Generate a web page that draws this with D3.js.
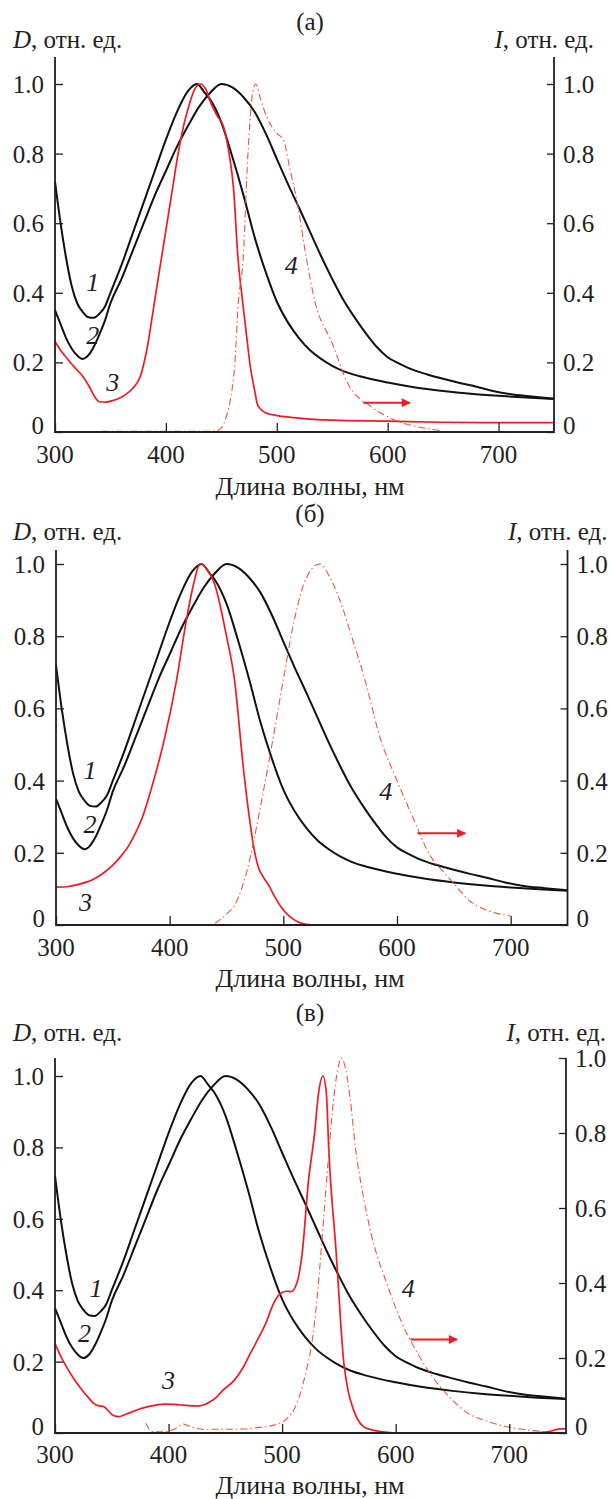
<!DOCTYPE html>
<html>
<head>
<meta charset="utf-8">
<script src="https://cdn.jsdelivr.net/npm/d3@7"></script>
<style>
  body { margin: 0; background: #fff; }
  text { font-family: "Liberation Serif", "Times New Roman", "DejaVu Serif", serif; fill: #231f20; }
</style>
</head>
<body>
<div class="chart"></div>
<script>
// tick values
var xTicks = [300, 400, 500, 600, 700];
var yTicks = [0, 0.2, 0.4, 0.6, 0.8, 1.0];
var panelNames = ["(а)", "(б)", "(в)"];

// absorption, same in all panels (nm, D)
var curve1 = [[300,0.72],[305,0.6],[310,0.5],[315,0.42],[320,0.37],[325,0.345],[330,0.33],[335,0.328],[340,0.34],
  [345,0.36],[350,0.4],[360,0.48],[370,0.57],[380,0.66],[390,0.75],[400,0.84],[410,0.92],[420,0.98],[428,1.0],
  [435,0.975],[440,0.955],[450,0.89],[460,0.79],[470,0.68],[480,0.56],[490,0.46],[500,0.375],[510,0.315],
  [520,0.27],[530,0.235],[540,0.21],[550,0.19],[560,0.175],[575,0.16],[600,0.142],[625,0.128],[650,0.118],
  [675,0.11],[700,0.104],[725,0.099],[750,0.095]];
var curve2 = [[300,0.35],[305,0.31],[310,0.27],[315,0.24],[320,0.22],[325,0.21],[330,0.22],[335,0.245],[340,0.28],
  [345,0.32],[350,0.37],[360,0.44],[370,0.52],[380,0.6],[390,0.68],[400,0.75],[410,0.82],[420,0.88],[430,0.935],
  [440,0.975],[450,1.0],[460,0.99],[470,0.962],[480,0.92],[490,0.858],[500,0.785],[510,0.713],[520,0.645],
  [530,0.575],[540,0.505],[550,0.44],[560,0.38],[570,0.33],[580,0.285],[590,0.245],[600,0.215],[610,0.197],
  [620,0.182],[635,0.166],[650,0.153],[665,0.141],[680,0.13],[695,0.118],[710,0.109],[730,0.102],[750,0.096]];

// panel (а)
var curve3a = [[300,0.26],[305,0.235],[310,0.215],[317,0.188],[325,0.16],[331,0.13],[336,0.1],[340,0.087],[346,0.086],
  [352,0.09],[358,0.097],[363,0.106],[370,0.125],[377,0.16],[383,0.24],[390,0.38],[395,0.48],[401,0.6],[406,0.7],
  [411,0.8],[416,0.88],[421,0.94],[426,0.985],[431,1.0],[436,0.985],[440,0.95],[446,0.91],[452,0.877],[457,0.8],
  [461,0.7],[465,0.5],[469,0.38],[473,0.27],[476,0.19],[480,0.12],[483,0.075],[490,0.055],[497,0.049],[520,0.04],
  [550,0.034],[600,0.031],[650,0.028],[700,0.027],[750,0.027]];
var curve4a = [[342,0.002],[400,0.002],[440,0.002],[448,0.006],[454,0.04],[458,0.09],[462,0.19],[465.5,0.38],
  [469.5,0.49],[474,0.8],[478,0.97],[481,1.0],[486,0.95],[491,0.905],[500,0.858],[506,0.84],[512,0.753],
  [518,0.667],[527,0.494],[534,0.38],[550,0.255],[564,0.14],[585,0.073],[603,0.039],[620,0.02],[635,0.01],[648,0.004]];

// panel (б)
var curve3b = [[300,0.105],[310,0.106],[319,0.112],[326,0.118],[333,0.127],[340,0.14],[350,0.166],[357,0.19],
  [364,0.22],[370,0.255],[375,0.29],[385,0.39],[395,0.51],[406,0.677],[415,0.85],[420,0.93],[427,1.0],[433,0.985],
  [440,0.94],[450,0.8],[457,0.68],[465,0.43],[470,0.3],[474,0.215],[478,0.16],[483,0.13],[488,0.105],[493,0.075],
  [498,0.05],[505,0.025],[512,0.01],[520,0.002],[530,0],[750,0]];
var curve4b = [[440,0.005],[450,0.03],[458,0.06],[468,0.15],[480,0.33],[490,0.5],[500,0.68],[510,0.85],[520,0.96],
  [532,1.0],[543,0.95],[552,0.88],[560,0.8],[572,0.677],[585,0.52],[600,0.4],[615,0.29],[629,0.193],[640,0.15],
  [650,0.115],[663,0.069],[680,0.04],[700,0.025]];

// panel (в), curve 4 on the right axis
var curve3c = [[300,0.251],[305,0.215],[310,0.186],[317,0.15],[324,0.12],[330,0.097],[334,0.083],[339,0.076],
  [343,0.074],[347,0.062],[351,0.05],[356.5,0.046],[362,0.052],[368.6,0.06],[375,0.068],[382,0.074],[390,0.079],
  [396,0.081],[405,0.08],[413,0.078],[420,0.076],[427,0.076],[432,0.08],[437,0.088],[442,0.1],[448,0.12],[458,0.148],
  [465,0.18],[472,0.223],[479,0.265],[485.6,0.307],[492.5,0.363],[499.4,0.393],[504,0.397],[508,0.396],[513,0.42],
  [518,0.513],[523,0.7],[528.6,0.84],[532,0.95],[536,1.0],[539,0.95],[541,0.8],[547.5,0.51],[554.4,0.195],
  [558,0.12],[563,0.064],[571.6,0.018],[580,0.008],[589,0.003],[600,0],[720,0],[735,0.004],[742,0.01],[750,0.012]];
var curve4c = [[380,0.026],[383,0.01],[386,0.004],[395,0.003],[405,0.01],[413,0.024],[420,0.016],[430,0.01],[459,0.01],
  [480,0.015],[492.5,0.021],[503,0.035],[513,0.079],[520,0.15],[527,0.257],[532,0.4],[535.5,0.53],[539,0.666],
  [545,0.88],[549,0.97],[552,1.0],[556,0.97],[560,0.89],[564.8,0.755],[571,0.64],[578.5,0.53],[592,0.4],[606,0.29],
  [616,0.23],[630,0.16],[647,0.097],[664,0.052],[680,0.032],[692,0.021],[716,0.008],[733,0.003]];

// arrows: [x0, x1, y] in data units (left axis)
var arrowA = [578, 620, 0.084];
var arrowB = [618, 660, 0.254];
var arrowC = [613, 654, 0.262];

var W = 613, H = 1499;
var red = "#ed1c24", redDash = "#f0553c", ink = "#231f20";

var svg = d3.select(".chart").append("svg")
  .attr("width", W)
  .attr("height", H);

var panels = [
  { name: panelNames[0], x0: 55, x1: 554, zero: 432, one: 84, oneR: 84, top: 57, titleY: 30, labelY: 48, tickY: 463, xTitleY: 495,
    lines: [{d: curve1}, {d: curve2}, {d: curve3a, c: red}, {d: curve4a, c: redDash, dash: true}], arrow: arrowA,
    nums: [["1", 334, 0.43], ["2", 334, 0.28], ["3", 352, 0.144], ["4", 513, 0.48]] },
  { name: panelNames[1], x0: 56, x1: 567.5, zero: 925, one: 564, oneR: 564, top: 550, titleY: 522, labelY: 540, tickY: 956, xTitleY: 987,
    lines: [{d: curve1}, {d: curve2}, {d: curve3b, c: red}, {d: curve4b, c: redDash, dash: true}], arrow: arrowB,
    nums: [["1", 330, 0.43], ["2", 330, 0.28], ["3", 326, 0.064], ["4", 590, 0.37]] },
  { name: panelNames[2], x0: 55, x1: 566, zero: 1433, one: 1076, oneR: 1058, top: 1058, titleY: 1021, labelY: 1041, tickY: 1463, xTitleY: 1494,
    lines: [{d: curve1}, {d: curve2}, {d: curve3c, c: red}, {d: curve4c, c: redDash, dash: true, right: true}], arrow: arrowC,
    nums: [["1", 336, 0.406], ["2", 326, 0.28], ["3", 400, 0.148], ["4", 611, 0.406]] }
];

var defs = svg.append("defs");
defs.append("marker")
  .attr("id", "head")
  .attr("viewBox", "0 0 10 10")
  .attr("refX", 9).attr("refY", 5)
  .attr("markerWidth", 6).attr("markerHeight", 4.5)
  .attr("markerUnits", "strokeWidth")
  .attr("orient", "auto")
  .append("path")
  .attr("d", "M0,0 L10,5 L0,10 Z")
  .attr("fill", red);

panels.forEach(function (p) {
  var x = d3.scaleLinear().domain([300, 750]).range([p.x0, p.x1]);
  var y = d3.scaleLinear().domain([0, 1]).range([p.zero, p.one]);
  var yR = d3.scaleLinear().domain([0, 1]).range([p.zero, p.oneR]);
  var g = svg.append("g");

  // curves
  p.lines.forEach(function (l) {
    var ys = l.right ? yR : y;
    var line = d3.line()
      .x(function (d) { return x(d[0]); })
      .y(function (d) { return ys(d[1]); })
      .curve(d3.curveMonotoneX);
    g.append("path")
      .datum(l.d)
      .attr("d", line)
      .attr("fill", "none")
      .attr("stroke", l.c || "#111")
      .attr("stroke-width", l.dash ? 1.1 : (l.c ? 1.7 : 2))
      .attr("stroke-dasharray", l.dash ? "7,3,1.5,3" : null);
  });

  // axes
  var xAxis = d3.axisBottom(x).tickValues(xTicks).tickSize(-9).tickFormat("");
  var gx = g.append("g").attr("transform", "translate(0," + p.zero + ")").call(xAxis);
  var yAxisL = d3.axisLeft(y).tickValues(yTicks).tickSize(-8).tickFormat("");
  var gl = g.append("g").attr("transform", "translate(" + p.x0 + ",0)").call(yAxisL);
  var yAxisR = d3.axisRight(yR).tickValues(yTicks).tickSize(-7).tickFormat("");
  var gr = g.append("g").attr("transform", "translate(" + p.x1 + ",0)").call(yAxisR);
  [gx, gl, gr].forEach(function (a) {
    a.select(".domain").remove();
    a.selectAll("line").attr("stroke", ink).attr("stroke-width", 1.3);
  });
  g.append("path")
    .attr("d", "M" + p.x0 + "," + p.top + "V" + p.zero + "H" + p.x1 + "V" + p.top)
    .attr("fill", "none")
    .attr("stroke", ink)
    .attr("stroke-width", 1.8);

  // tick labels
  g.selectAll(".xl").data(xTicks).enter().append("text")
    .attr("x", function (d) { return x(d); })
    .attr("y", p.tickY)
    .attr("text-anchor", "middle")
    .attr("font-size", 25)
    .text(function (d) { return d; });
  var fmt = function (d) { return d === 0 ? "0" : d3.format(".1f")(d); };
  g.selectAll(".yl").data(yTicks).enter().append("text")
    .attr("x", p.x0 - 11)
    .attr("y", function (d) { return y(d) + (d === 0 ? 2 : 9); })
    .attr("text-anchor", "end")
    .attr("font-size", 25)
    .text(fmt);
  g.selectAll(".yr").data(yTicks).enter().append("text")
    .attr("x", p.x1 + 9)
    .attr("y", function (d) { return yR(d) + (d === 0 ? 2 : 9); })
    .attr("font-size", 25)
    .text(fmt);

  // titles
  g.append("text").attr("x", 310).attr("y", p.titleY).attr("text-anchor", "middle")
    .attr("font-size", 25).text(p.name);
  g.append("text").attr("x", 310).attr("y", p.xTitleY).attr("text-anchor", "middle")
    .attr("font-size", 26).text("Длина волны, нм");
  var tl = g.append("text").attr("x", 13).attr("y", p.labelY).attr("font-size", 25);
  tl.append("tspan").attr("font-style", "italic").text("D");
  tl.append("tspan").text(", отн. ед.");
  var tr = g.append("text").attr("x", p.x1 + 40).attr("y", p.labelY).attr("text-anchor", "end").attr("font-size", 25);
  tr.append("tspan").attr("font-style", "italic").text("I");
  tr.append("tspan").text(", отн. ед.");

  // curve numbers
  g.selectAll(".num").data(p.nums).enter().append("text")
    .attr("x", function (d) { return x(d[1]); })
    .attr("y", function (d) { return y(d[2]) + 9; })
    .attr("text-anchor", "middle")
    .attr("font-size", 26)
    .attr("font-style", "italic")
    .text(function (d) { return d[0]; });

  // arrow towards right axis
  g.append("line")
    .attr("x1", x(p.arrow[0])).attr("x2", x(p.arrow[1]))
    .attr("y1", y(p.arrow[2])).attr("y2", y(p.arrow[2]))
    .attr("stroke", red)
    .attr("stroke-width", 2)
    .attr("marker-end", "url(#head)");
});
</script>
</body>
</html>
